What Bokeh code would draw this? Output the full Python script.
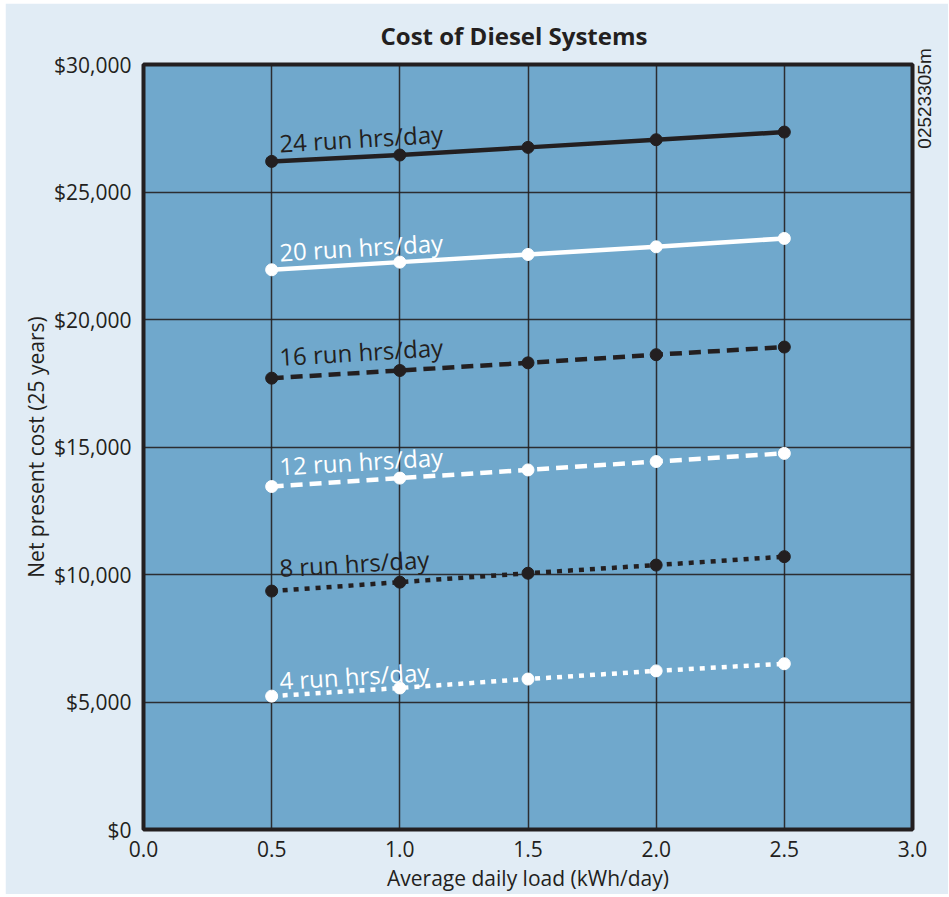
import math
from bokeh.plotting import figure
from bokeh.models import FixedTicker, LinearAxis, Range1d
from bokeh.core.properties import value
from bokeh.embed import file_html
from bokeh.resources import INLINE

# ---------------- data ----------------
load_kwh = [0.5, 1.0, 1.5, 2.0, 2.5]
cost_24 = [26200, 26450, 26750, 27050, 27350]
cost_20 = [21950, 22250, 22550, 22850, 23180]
cost_16 = [17700, 18000, 18300, 18620, 18920]
cost_12 = [13450, 13780, 14100, 14430, 14750]
cost_8 = [9350, 9700, 10050, 10370, 10700]
cost_4 = [5230, 5550, 5900, 6220, 6500]
series_labels = ["24 run hrs/day", "20 run hrs/day", "16 run hrs/day",
                 "12 run hrs/day", "8 run hrs/day", "4 run hrs/day"]
x_ticks = [0.0, 0.5, 1.0, 1.5, 2.0, 2.5, 3.0]
y_ticks = [0, 5000, 10000, 15000, 20000, 25000, 30000]
y_tick_labels = ["$0", "$5,000", "$10,000", "$15,000", "$20,000", "$25,000", "$30,000"]
code_text = "02523305m"

# ---------------- style ----------------
INK = "#231f20"
WHITE = "#ffffff"
PLOT_BG = "#70a8cc"
OUTER_BG = "#e1ecf5"
FONT = "Open Sans"
CODE_POS = 26700  # where the rotated code text starts, in y-axis units

p = figure(frame_width=769, frame_height=765,
           min_border_left=138, min_border_right=34,
           min_border_top=59, min_border_bottom=62,
           x_range=Range1d(0, 3.0), y_range=Range1d(0, 30000),
           output_backend="svg", toolbar_location=None,
           title="Cost of Diesel Systems")
p.margin = (3, 0, 0, 5)

p.background_fill_color = PLOT_BG
p.border_fill_color = OUTER_BG
p.outline_line_color = INK
p.outline_line_width = 4

p.title.align = "left"
p.title.offset = 237
p.title.text_font = FONT
p.title.text_font_style = "bold"
p.title.text_font_size = "24px"
p.title.text_color = INK
p.title.text_line_height = 0.8
p.title.standoff = 26

for ax in (p.xaxis[0], p.yaxis[0]):
    ax.axis_line_color = None
    ax.major_tick_line_color = None
    ax.minor_tick_line_color = None
    ax.major_label_text_font = FONT
    ax.major_label_text_font_size = "21px"
    ax.major_label_text_color = INK
    ax.axis_label_text_font = FONT
    ax.axis_label_text_font_size = "21px"
    ax.axis_label_text_font_style = "normal"
    ax.axis_label_text_color = INK

p.xaxis.ticker = FixedTicker(ticks=x_ticks)
p.xaxis.major_label_overrides = {t: f"{t:.1f}" for t in x_ticks}
p.xaxis.axis_label = "Average daily load (kWh/day)"
p.xaxis.major_label_standoff = 5
p.xaxis.axis_label_standoff = 4

p.yaxis.ticker = FixedTicker(ticks=y_ticks)
p.yaxis.major_label_overrides = {t: l for t, l in zip(y_ticks, y_tick_labels)}
p.yaxis.axis_label = "Net present cost (25 years)"
p.yaxis.major_label_standoff = 6
p.yaxis.axis_label_standoff = 1

# right-hand code text, drawn as a single rotated tick label
code_axis = LinearAxis(ticker=FixedTicker(ticks=[CODE_POS]),
                       major_label_overrides={CODE_POS: code_text},
                       major_label_orientation=math.pi / 2,
                       major_label_standoff=6,
                       major_label_text_font="Liberation Sans",
                       major_label_text_font_size="19px",
                       major_label_text_color=INK,
                       axis_line_color=None,
                       major_tick_line_color=None,
                       minor_tick_line_color=None)
p.add_layout(code_axis, "right")

p.xgrid.ticker = FixedTicker(ticks=x_ticks)
p.ygrid.ticker = FixedTicker(ticks=y_ticks)
p.grid.grid_line_color = INK
p.grid.grid_line_width = 1.5
p.grid.grid_line_alpha = 0.9

series = [cost_24, cost_20, cost_16, cost_12, cost_8, cost_4]
colors = [INK, WHITE, INK, WHITE, INK, WHITE]
dashes = ["solid", "solid", "12 7", "12 7", "5 6", "5 6"]
label_offsets = [720, 700, 850, 800, 920, 620]
angle = math.radians(3.4)

for vals, col, dash, lab, off in zip(series, colors, dashes, series_labels, label_offsets):
    p.line(load_kwh, vals, line_color=col, line_width=4.5, line_dash=dash,
           line_cap="butt")
    p.scatter(load_kwh, vals, size=12, fill_color=col, line_color=col)
    p.text(x=[0.53], y=[vals[0] + off], text=[lab], angle=angle,
           text_color=col, text_font=value(FONT), text_font_size="24px",
           text_baseline="alphabetic", text_align="left")

open("out.html", "w").write(file_html(p, INLINE))
